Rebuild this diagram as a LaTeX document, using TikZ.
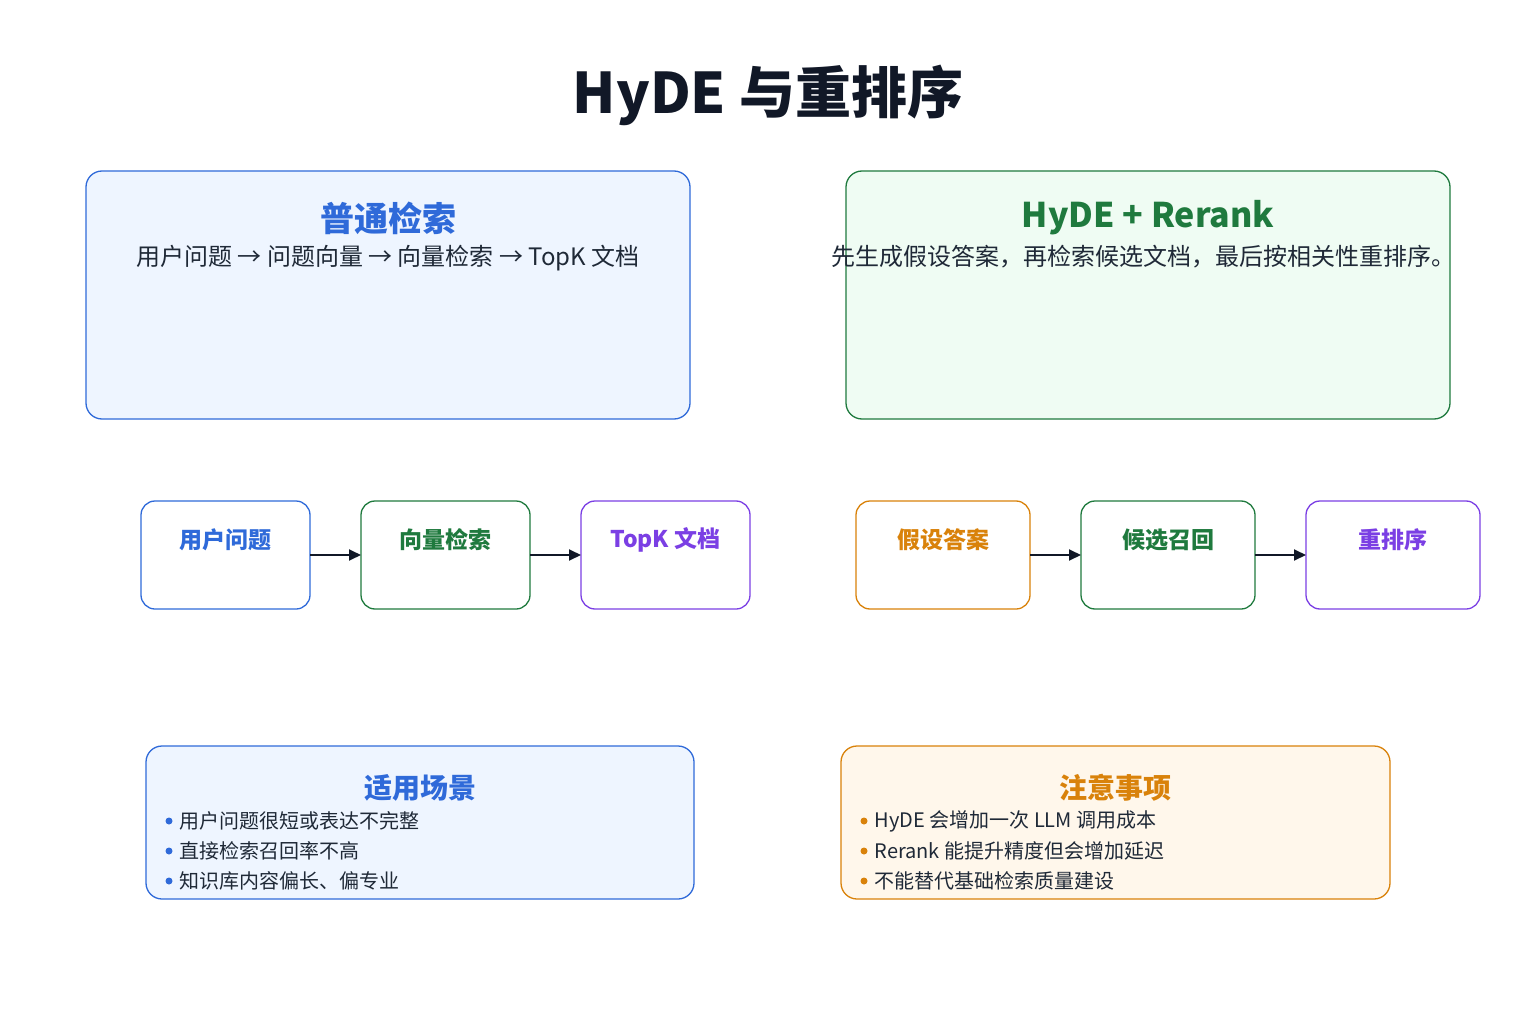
\documentclass[tikz,border=0pt]{standalone}
\usepackage{fontspec}
\setmainfont{Noto Sans CJK SC}
\usetikzlibrary{arrows.meta}
\definecolor{cblue}{HTML}{2F6AD9}
\definecolor{cgreen}{HTML}{1F7A3E}
\definecolor{cpurple}{HTML}{7B3FE4}
\definecolor{corange}{HTML}{D9820A}
\definecolor{cdark}{HTML}{111827}
\definecolor{ctext}{HTML}{1F2937}
\definecolor{fblue}{HTML}{EEF5FF}
\definecolor{fgreen}{HTML}{EFFCF3}
\definecolor{forange}{HTML}{FFF7EB}
\tikzset{
 panel/.style={draw=#1, line width=1.3pt, rounded corners=16pt},
 flowbox/.style={draw=#1, line width=1.3pt, rounded corners=14pt, fill=white},
 ttl/.style={font=\fontsize{34}{40}\selectfont\bfseries, text=#1},
 sub/.style={font=\fontsize{24}{28}\selectfont, text=ctext},
 flab/.style={font=\fontsize{23}{27}\selectfont\bfseries, text=#1},
 bul/.style={font=\fontsize{20}{24}\selectfont, text=ctext, anchor=west},
 dot/.style={circle, fill=#1, inner sep=0pt, minimum size=7pt},
 arr/.style={-{Triangle[length=12pt,width=11pt]}, line width=1.8pt, draw=cdark}
}
\begin{document}
\begin{tikzpicture}[x=1pt,y=-1pt]
\useasboundingbox[fill=white] (0,0) rectangle (1536,1024);
\node[font=\fontsize{56}{64}\selectfont\bfseries, text=cdark] (title) at (768,95) {HyDE 与重排序};
% top panels
\draw[panel=cblue, fill=fblue] (86,171) rectangle (690,419);
\node[ttl=cblue] (t1) at (388,218) {普通检索};
\node[sub] (s1) at (388,258) {用户问题 → 问题向量 → 向量检索 → TopK 文档};
\draw[panel=cgreen, fill=fgreen] (846,171) rectangle (1450,419);
\node[ttl=cgreen] (t2) at (1148,218) {HyDE + Rerank};
\node[sub] (s2) at (1143,257) {先生成假设答案，再检索候选文档，最后按相关性重排序。};
% flow boxes
\foreach \n/\xa/\xb/\c/\t in {a/141/310/cblue/用户问题, b/361/530/cgreen/向量检索, c/581/750/cpurple/TopK 文档, d/856/1030/corange/假设答案, e/1081/1255/cgreen/候选召回, f/1306/1480/cpurple/重排序}{
  \draw[flowbox=\c] (\xa,501) rectangle (\xb,609);
  \coordinate (\n L) at (\xa,555);
  \coordinate (\n R) at (\xb,555);
  \node[flab=\c] (\n) at ({(\xa+\xb)/2},540) {\t};
}
\draw[arr] (aR) -- (bL);
\draw[arr] (bR) -- (cL);
\draw[arr] (dR) -- (eL);
\draw[arr] (eR) -- (fL);
% bottom panels
\draw[panel=cblue, fill=fblue] (146,746) rectangle (694,899);
\node[ttl=cblue, font=\fontsize{28}{32}\selectfont\bfseries] (t3) at (420,788) {适用场景};
\foreach \y/\t [count=\i] in {821/用户问题很短或表达不完整, 851/直接检索召回率不高, 881/知识库内容偏长、偏专业}{
  \node[dot=cblue] (bd\i) at (169,\y) {};
  \node[bul] (bt\i) at (176,\y) {\t};
}
\draw[panel=corange, fill=forange] (841,746) rectangle (1390,899);
\node[ttl=corange, font=\fontsize{28}{32}\selectfont\bfseries] (t4) at (1115,788) {注意事项};
\foreach \y/\t [count=\i] in {821/HyDE 会增加一次 LLM 调用成本, 851/Rerank 能提升精度但会增加延迟, 881/不能替代基础检索质量建设}{
  \node[dot=corange] (od\i) at (864,\y) {};
  \node[bul] (ot\i) at (871,\y) {\t};
}
\end{tikzpicture}
\end{document}
